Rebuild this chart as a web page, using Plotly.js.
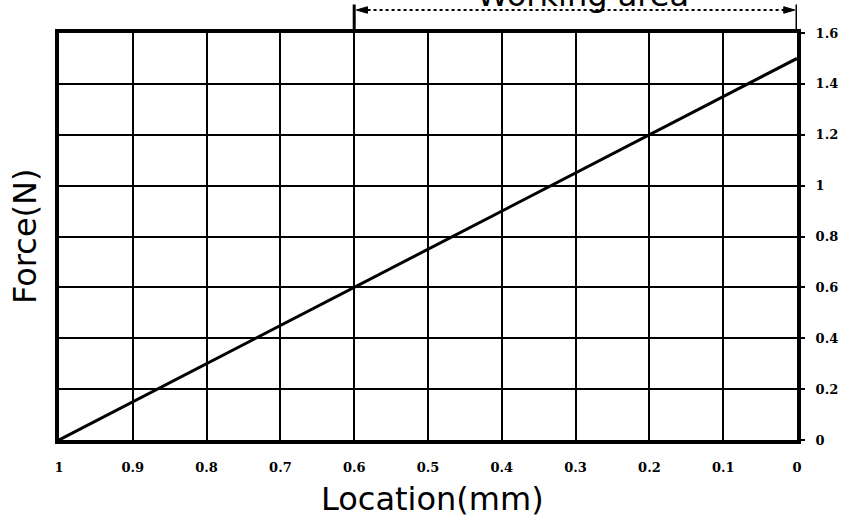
<!DOCTYPE html>
<html>
<head>
<meta charset="utf-8">
<script src="https://cdn.plot.ly/plotly-3.0.1.min.js"></script>
<style>html,body{margin:0;padding:0;background:#fff;}#chart{width:848px;height:519px;}</style>
</head>
<body>
<div id="chart"></div>
<script>
const locationMm = [1, 0];
const forceN = [0, 1.5];
const xTickVals = [1, 0.9, 0.8, 0.7, 0.6, 0.5, 0.4, 0.3, 0.2, 0.1, 0];
const xTickText = ["1", "0.9", "0.8", "0.7", "0.6", "0.5", "0.4", "0.3", "0.2", "0.1", "0"];
const yTickVals = [0, 0.2, 0.4, 0.6, 0.8, 1, 1.2, 1.4, 1.6];
const yTickText = ["0", "0.2", "0.4", "0.6", "0.8", "1", "1.2", "1.4", "1.6"];
const workStart = 0.6, workEnd = 0;

const tickFont = {family: "DejaVu Serif", size: 13, color: "#000", weight: "bold"};
const titleFont = {family: "DejaVu Sans", size: 32, color: "#000"};

const trace = {
  x: locationMm, y: forceN, type: "scatter", mode: "lines",
  line: {color: "#000", width: 3}, hoverinfo: "skip", cliponaxis: false
};

const arrowY = 1.0565;
const layout = {
  width: 848, height: 519,
  margin: {l: 59, r: 51, t: 33, b: 79},
  paper_bgcolor: "#fff", plot_bgcolor: "#fff",
  showlegend: false,
  xaxis: {
    range: [1, 0], tickvals: xTickVals, ticktext: xTickText,
    showgrid: true, gridcolor: "#000", gridwidth: 2,
    showline: true, linecolor: "#000", linewidth: 4, mirror: true,
    ticks: "", ticklabelstandoff: 12, tickfont: tickFont, zeroline: false
  },
  yaxis: {
    range: [0, 1.6], tickvals: yTickVals, ticktext: yTickText, side: "right",
    showgrid: true, gridcolor: "#000", gridwidth: 2,
    showline: true, linecolor: "#000", linewidth: 4, mirror: true,
    ticks: "outside", ticklen: 4, tickwidth: 2, tickcolor: "#000",
    ticklabelstandoff: 8, tickfont: tickFont, zeroline: false
  },
  shapes: [
    {type: "line", xref: "x", yref: "paper", x0: workStart, x1: workStart, y0: 1, y1: 1.07, line: {color: "#000", width: 3}},
    {type: "line", xref: "x", yref: "paper", x0: workEnd, x1: workEnd, y0: 1, y1: 1.07, line: {color: "#000", width: 3}},
    {type: "line", xref: "x", yref: "paper", x0: workStart - 0.01, x1: workEnd + 0.01, y0: arrowY, y1: arrowY, line: {color: "#000", width: 2, dash: "dot"}},
    {type: "path", xref: "x", yref: "paper", path: `M ${workStart - 0.003} ${arrowY} L ${workStart - 0.018} ${arrowY + 0.008} L ${workStart - 0.018} ${arrowY - 0.008} Z`, fillcolor: "#000", line: {color: "#000", width: 1}},
    {type: "path", xref: "x", yref: "paper", path: `M ${workEnd + 0.003} ${arrowY} L ${workEnd + 0.018} ${arrowY + 0.008} L ${workEnd + 0.018} ${arrowY - 0.008} Z`, fillcolor: "#000", line: {color: "#000", width: 1}}
  ],
  annotations: [
    {text: "Working area", xref: "x", yref: "paper", x: 0.29, y: 1.042, xanchor: "center", yanchor: "bottom", showarrow: false, font: titleFont},
    {text: "Location(mm)", xref: "paper", yref: "paper", x: (432 - 59) / 738, y: -(499 - 440) / 407, xanchor: "center", yanchor: "middle", showarrow: false, font: titleFont},
    {text: "Force(N)", xref: "paper", yref: "paper", x: -(59 - 25) / 738, y: (440 - 237) / 407, xanchor: "center", yanchor: "middle", textangle: -90, showarrow: false, font: titleFont}
  ]
};

Plotly.newPlot("chart", [trace], layout, {staticPlot: true, displayModeBar: false});
</script>
</body>
</html>
